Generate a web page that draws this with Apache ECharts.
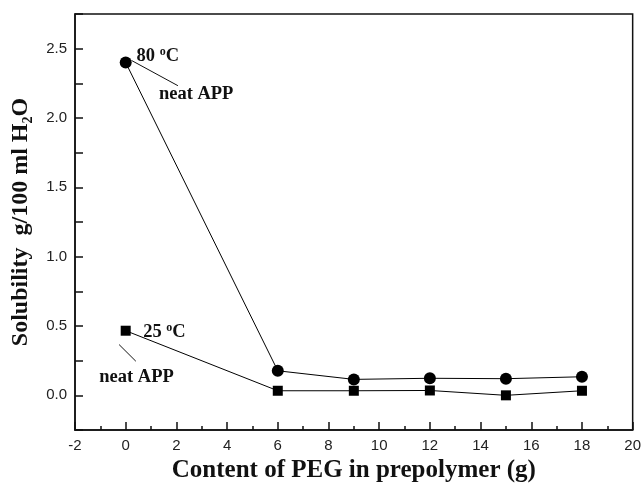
<!DOCTYPE html>
<html><head><meta charset="utf-8">
<script src="https://cdn.jsdelivr.net/npm/echarts@6/dist/echarts.min.js"></script>
<style>html,body{margin:0;padding:0;background:#fff}#c{width:644px;height:490px}</style>
</head><body><div id="c"></div>
<script>
var peg = [0, 6, 9, 12, 15, 18];
var sol80 = [2.40, 0.177, 0.115, 0.123, 0.12, 0.134];
var sol25 = [0.466, 0.033, 0.033, 0.035, 0.0, 0.033];
var xTitle = 'Content of PEG in prepolymer (g)';
var ann80 = {label: '80', neat: 'neat APP'};
var ann25 = {label: '25', neat: 'neat APP'};

function pairs(xs, ys){ return xs.map(function(x,i){return [x, ys[i]];}); }

var chart = echarts.init(document.getElementById('c'));
var serif = '"Liberation Serif","Times New Roman",serif';
var sans = '"Liberation Sans",Arial,sans-serif';
chart.setOption({
  animation: false,
  grid: {left: 75, right: 10, top: 14, bottom: 60, show: true, borderColor: '#111', borderWidth: 1.5, backgroundColor: 'transparent'},
  xAxis: {
    type: 'value', min: -2, max: 20, interval: 2,
    axisLine: {onZero: false, lineStyle: {color: '#111', width: 1.5}},
    axisTick: {inside: true, length: 8, lineStyle: {color: '#111', width: 1.5}},
    minorTick: {show: true, splitNumber: 2, length: 4, lineStyle: {color: '#111', width: 1.5}},
    splitLine: {show: false},
    axisLabel: {color: '#222', fontSize: 15, fontFamily: sans, margin: 8},
    name: xTitle, nameLocation: 'middle', nameGap: 22,
    nameTextStyle: {fontFamily: serif, fontWeight: 'bold', fontSize: 25, color: '#111'}
  },
  yAxis: {
    type: 'value', min: -0.25, max: 2.75, interval: 0.25,
    axisLine: {onZero: false, lineStyle: {color: '#111', width: 1.5}},
    axisTick: {inside: true, length: 8, lineStyle: {color: '#111', width: 1.5}},
    splitLine: {show: false},
    axisLabel: {color: '#222', fontSize: 15, fontFamily: sans, margin: 8,
      formatter: function(v){
        var d = v*2;
        if (v < -1e-6 || v > 2.5+1e-6 || Math.abs(d - Math.round(d)) > 1e-6) return '';
        return v.toFixed(1);
      }},
    name: '{a|Solubility  g/100 ml H}{s|2}{a|O}', nameLocation: 'middle', nameGap: 40,
    nameTextStyle: {
      rich: {
        a: {fontFamily: serif, fontWeight: 'bold', fontSize: 24, color: '#111'},
        s: {fontFamily: serif, fontWeight: 'bold', fontSize: 14, color: '#111', verticalAlign: 'bottom', padding: [14,0,0,0]}
      }
    }
  },
  series: [
    {type: 'line', data: pairs(peg, sol80), symbol: 'circle', symbolSize: 12,
     itemStyle: {color: '#000'}, lineStyle: {color: '#000', width: 1}},
    {type: 'line', data: pairs(peg, sol25), symbol: 'rect', symbolSize: 10,
     itemStyle: {color: '#000'}, lineStyle: {color: '#000', width: 1}}
  ]
});

function px(x, y){ return chart.convertToPixel({gridIndex: 0}, [x, y]); }
var rich = {
  b: {fontFamily: serif, fontWeight: 'bold', fontSize: 18.5, fill: '#111'},
  o: {fontFamily: serif, fontWeight: 'bold', fontSize: 12, fill: '#111', padding: [0,0,9,0]}
};
function degText(x, y, num){
  var p = px(x, y);
  return {type: 'text', x: p[0], y: p[1], style: {text: '{b|' + num + ' }{o|o}{b|C}', rich: rich, verticalAlign: 'middle'}};
}
function plain(x, y, s){
  var p = px(x, y);
  return {type: 'text', x: p[0], y: p[1], style: {text: s, fontFamily: serif, fontWeight: 'bold', fontSize: 18.5, fill: '#111', verticalAlign: 'middle'}};
}
function seg(x1, y1, x2, y2){
  var a = px(x1, y1), b = px(x2, y2);
  return {type: 'line', shape: {x1: a[0], y1: a[1], x2: b[0], y2: b[1]}, style: {stroke: '#111', lineWidth: 1}};
}
chart.setOption({graphic: [
  degText(0.43, 2.444, ann80.label),
  seg(0.23, 2.415, 2.06, 2.233),
  plain(1.31, 2.168, ann80.neat),
  degText(0.69, 0.457, ann25.label),
  seg(-0.26, 0.366, 0.40, 0.246),
  plain(-1.04, 0.128, ann25.neat)
]});
</script></body></html>
